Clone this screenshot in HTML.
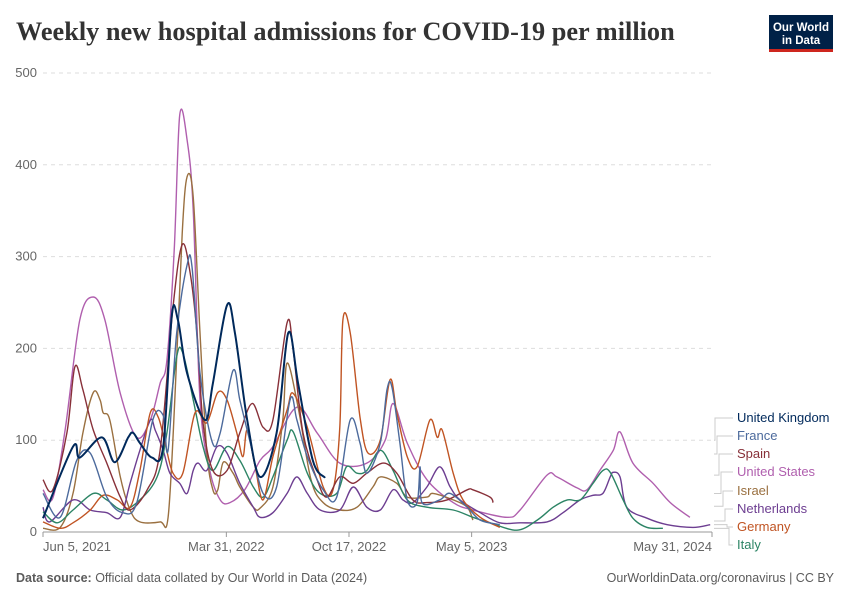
<!DOCTYPE html>
<html><head><meta charset="utf-8"><style>
body{margin:0;background:#fff;font-family:"Liberation Sans",sans-serif;}
svg text{font-family:"Liberation Sans",sans-serif;}
</style></head><body>
<svg id="chart" width="850" height="600" xmlns="http://www.w3.org/2000/svg">
<text x="16" y="40" font-weight="bold" font-size="26.3" fill="#333" style="font-family:'Liberation Serif',serif">Weekly new hospital admissions for COVID-19 per million</text>
<g><rect x="769" y="15" width="64" height="37" fill="#002147"/><rect x="769" y="49" width="64" height="3" fill="#ce261e"/>
<text x="801" y="31" text-anchor="middle" fill="#fff" font-size="11.5" font-weight="bold">Our World</text><text x="801" y="44" text-anchor="middle" fill="#fff" font-size="11.5" font-weight="bold">in Data</text></g>
<g id="grid"></g><g id="series"></g><g id="legend"></g>
<text x="16" y="582" font-size="12.5" fill="#5b5b5b"><tspan font-weight="bold">Data source:</tspan> Official data collated by Our World in Data (2024)</text>
<text x="834" y="582" text-anchor="end" font-size="12.5" fill="#5b5b5b">OurWorldinData.org/coronavirus | CC BY</text>
</svg>
<script>
const yTicks=[0,100,200,300,400,500];
const xTickDays=[0,299,499,699,1091];
const xTickLabels=["Jun 5, 2021","Mar 31, 2022","Oct 17, 2022","May 5, 2023","May 31, 2024"];
const seriesNames=["United Kingdom","France","Spain","United States","Israel","Netherlands","Germany","Italy"];
const seriesColors=["#00295b","#4c6a9c","#883039","#b05fae","#9a7040","#6d3e91","#c05423","#2c8465"];
const ukDays=[0,49,60,96,117,139,147,158,178,196,210,220,235,264,277,300,313,333,354,381,400,416,440,460];
const ukVals=[15,93,81,103,76,103,108,97,81,93,236,231,173,122,162,247,217,122,60,108,217,162,78,59];
const frDays=[0,28,55,77,104,130,153,179,196,204,218,235,243,256,276,289,310,321,338,359,381,403,414,431,457,479,501,517,528,550,561,569,582,594,610,615,618,647,664,692,713,745];
const frVals=[42,16,78,86,38,21,32,122,127,89,217,291,289,173,98,108,176,144,97,42,49,144,122,82,46,38,122,97,64,97,155,158,97,35,32,71,32,35,42,27,13,8];
const esDays=[0,16,39,52,65,82,104,126,142,170,191,212,227,240,251,261,277,300,321,341,359,375,398,408,424,447,463,484,506,528,555,577,603,626,659,692,701,729,734];
const esVals=[57,46,108,180,155,111,75,38,24,46,89,245,313,282,217,119,67,67,108,140,114,122,228,198,108,57,38,60,53,64,75,64,35,32,35,46,46,38,32];
const usDays=[0,16,36,60,82,101,126,153,175,191,202,214,223,235,245,256,272,289,305,329,354,375,414,447,484,528,558,571,594,626,669,701,757,778,822,838,871,887,908,930,941,962,995,1023,1055];
const usVals=[46,37,111,231,256,231,151,103,122,162,187,307,454,427,351,144,67,35,32,46,78,93,136,108,75,75,100,140,97,57,32,24,16,24,62,60,48,46,67,89,109,75,53,32,16];
const ilDays=[0,28,49,65,82,93,98,109,126,142,158,191,204,215,227,235,245,256,267,277,285,294,310,321,343,354,375,391,398,416,437,457,484,512,538,550,577,594,626,636,669,692,701];
const ilVals=[4,5,42,108,152,144,130,122,60,24,11,11,16,144,325,387,365,217,89,46,46,76,64,49,27,26,49,122,184,136,57,32,24,27,49,60,53,38,38,42,35,27,13];
const nlDays=[0,11,49,77,104,126,142,158,175,183,196,207,223,235,245,253,267,284,300,321,343,354,375,398,414,431,452,484,506,528,550,571,587,603,626,647,664,680,713,745,778,822,848,876,897,913,925,930,941,952,985,1018,1060,1088];
const nlVals=[27,11,35,24,21,16,53,89,122,111,89,64,53,42,67,75,67,93,86,53,27,16,21,42,60,42,24,24,49,27,24,46,35,32,49,71,49,35,21,10,10,11,21,35,40,42,60,65,60,27,15,8,5,8];
const deDays=[0,28,49,77,98,121,142,158,175,188,199,212,228,248,267,285,300,316,326,333,346,359,375,398,408,431,457,473,484,489,501,517,530,550,566,577,594,610,631,643,651,669,685,713,745];
const deVals=[11,4,10,24,40,35,27,67,130,125,97,64,64,130,119,152,144,108,82,111,71,35,82,133,151,114,49,46,114,231,217,125,86,100,166,130,82,71,122,103,111,64,35,16,5];
const itDays=[0,23,49,82,104,130,158,186,202,218,228,245,261,277,300,321,343,359,375,398,408,431,452,479,495,512,528,550,571,594,626,669,701,729,773,806,832,855,876,897,913,925,946,962,985,1011];
const itVals=[22,10,24,42,35,24,35,60,108,191,195,144,93,67,93,78,49,38,60,100,109,64,42,42,71,64,67,89,67,35,27,24,16,10,2,13,27,35,35,53,67,65,35,15,5,4];
const allDays=[ukDays,frDays,esDays,usDays,ilDays,nlDays,deDays,itDays];
const allVals=[ukVals,frVals,esVals,usVals,ilVals,nlVals,deVals,itVals];
const X0=43,X1=712,Y0=532,Y1=73,DMAX=1091,VMAX=500;
const xs=d=>X0+(X1-X0)*d/DMAX, ys=v=>Y0-(Y0-Y1)*v/VMAX;
const NS="http://www.w3.org/2000/svg";
function mk(t,a,p){const e=document.createElementNS(NS,t);for(const k in a)e.setAttribute(k,a[k]);p.appendChild(e);return e;}
function smooth(P){
 let d='M'+P[0][0].toFixed(1)+','+P[0][1].toFixed(1);
 for(let i=0;i<P.length-1;i++){
  const p0=P[i-1]||P[i],p1=P[i],p2=P[i+1],p3=P[i+2]||P[i+1],k=1/6;
  const c1=[p1[0]+(p2[0]-p0[0])*k,p1[1]+(p2[1]-p0[1])*k];
  const c2=[p2[0]-(p3[0]-p1[0])*k,p2[1]-(p3[1]-p1[1])*k];
  d+=` C${c1[0].toFixed(1)},${c1[1].toFixed(1)} ${c2[0].toFixed(1)},${c2[1].toFixed(1)} ${p2[0].toFixed(1)},${p2[1].toFixed(1)}`;
 }
 return d;
}
const grid=document.getElementById('grid');
yTicks.forEach(v=>{
 if(v>0){const l=mk('line',{x1:X0,x2:X1,y1:ys(v),y2:ys(v),stroke:'#ddd','stroke-dasharray':'4,4'},grid);
 
 }
 const t=mk('text',{x:37,y:ys(v)+4,'text-anchor':'end','font-size':13,fill:'#666'},grid);t.textContent=v;
 
 
});
const ax=mk('line',{x1:X0,x2:X1,y1:Y0,y2:Y0,stroke:'#999'},grid);


xTickDays.forEach((d,i)=>{
 mk('line',{x1:xs(d),x2:xs(d),y1:Y0,y2:Y0+5,stroke:'#999'},grid);
 const anchor=i==0?'start':(i==xTickDays.length-1?'end':'middle');
 const t=mk('text',{x:xs(d),y:551,'text-anchor':anchor,'font-size':13,fill:'#666'},grid);t.textContent=xTickLabels[i];
 
 
});
const sg=document.getElementById('series');
const order=[3,4,5,7,6,2,1,0];
order.forEach(i=>{
 const P=allDays[i].map((d,j)=>[xs(d),ys(allVals[i][j])]);
 const p=mk('path',{d:smooth(P),fill:'none',stroke:seriesColors[i],'stroke-width':i==0?2:1.4,'stroke-linejoin':'round'},sg);
 
 
});
const lg=document.getElementById('legend');
const lgY=[422,440,458,476,495,513,531,549];
const connX=[719,721,723,725,727,729,731,733];
const endY=[ys(100),ys(85),ys(62),ys(42),ys(28),ys(12),ys(8),ys(4)];
seriesNames.forEach((n,i)=>{
 mk('polyline',{points:`714,${endY[i]} ${connX[i]-4},${endY[i]} ${connX[i]-4},${lgY[i]-4} 733,${lgY[i]-4}`,fill:'none',stroke:'#ccc','stroke-width':1},lg);
 const t=mk('text',{x:737,y:lgY[i],'font-size':13,fill:seriesColors[i]},lg);t.textContent=n;
 
 
});
</script>
</body></html>
